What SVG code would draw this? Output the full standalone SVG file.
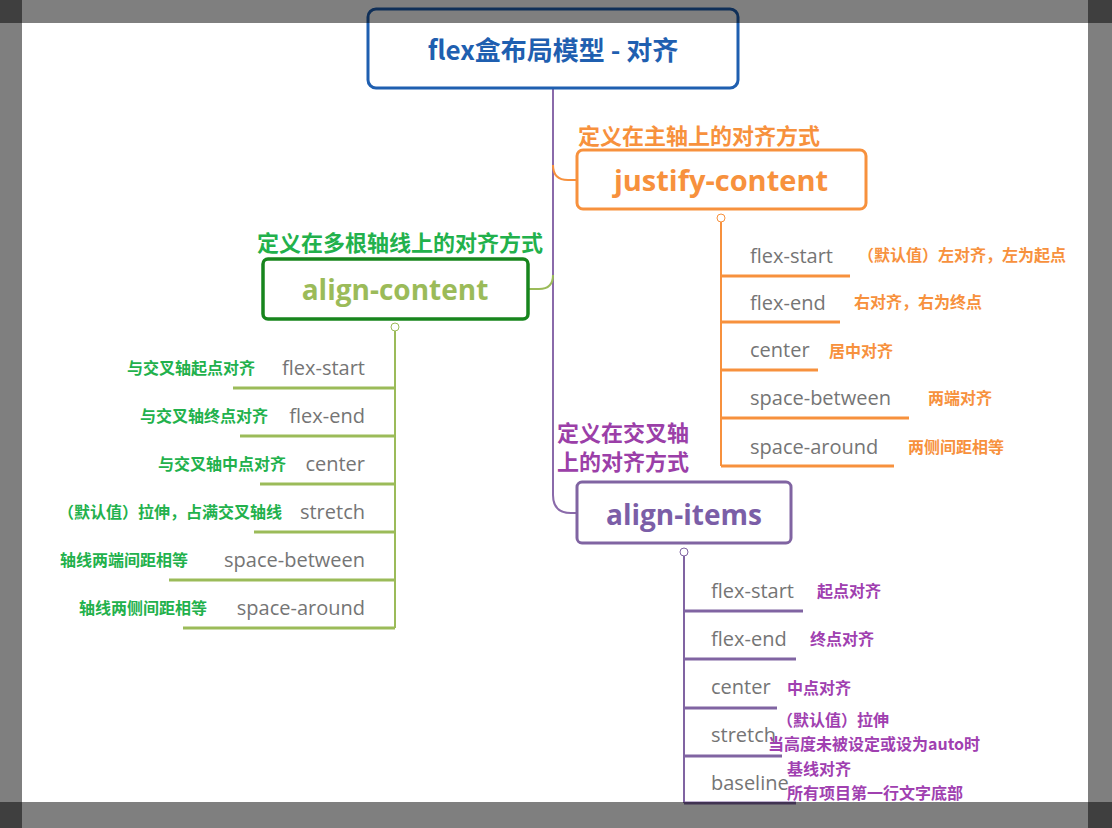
<svg xmlns="http://www.w3.org/2000/svg" width="1112" height="828" viewBox="0 0 1112 828">
<style>
.k{font-family:"Open Sans","Noto Sans",sans-serif;font-size:20px;fill:#757575}
.cj{font-family:"Noto Sans CJK SC",sans-serif;font-weight:bold}
.o{fill:#f7913d;font-size:16px}
.g{fill:#22b14c;font-size:16px}
.p{fill:#a040b0;font-size:16px}
.tt{font-family:"Open Sans","Noto Sans",sans-serif;font-weight:bold;text-anchor:middle}
</style>
<rect width="1112" height="828" fill="#fff"/>
<g id="connectors" fill="none">
<path d="M553 88 V495 Q553 513 571 513 H577" stroke="#8a6aaa" stroke-width="2"/>
<path d="M553 165 Q553 180 568 180 H577" stroke="#f7913d" stroke-width="2"/>
<path d="M553 275 Q553 289 539 289 H529" stroke="#9bbb59" stroke-width="2"/>
<g stroke="#f7913d" stroke-width="2"><path d="M721 222 V466"/></g>
<g stroke="#f7913d" stroke-width="3"><path d="M721 276 H850 M721 322 H840 M721 370 H818 M721 418 H909 M721 466 H894"/></g>
<g stroke="#9bbb59" stroke-width="2"><path d="M395 331 V628"/></g>
<g stroke="#9bbb59" stroke-width="3"><path d="M233 388 H395 M240 436 H395 M260 484 H395 M254 532 H395 M169 580 H395 M183 628 H395"/></g>
<g stroke="#8064a2" stroke-width="2"><path d="M684 556 V803"/></g>
<g stroke="#8064a2" stroke-width="3"><path d="M684 611 H803 M684 659 H796 M684 708 H777 M684 756 H782 M684 803 H796"/></g>
<circle cx="721" cy="218" r="4" fill="#fff" stroke="#f7913d"/>
<circle cx="395" cy="327" r="4" fill="#fff" stroke="#9bbb59"/>
<circle cx="684" cy="552" r="4" fill="#fff" stroke="#8064a2"/>
</g>
<g id="root"><rect x="368" y="9" width="370" height="79" rx="8" fill="#fff" stroke="#1f5fb0" stroke-width="3"/>
<text x="553" y="60" class="cj" font-size="26" fill="#1f5fb0" text-anchor="middle">flex盒布局模型 - 对齐</text></g>
<g id="justify"><text x="578" y="144" class="cj" font-size="22" fill="#f7913d">定义在主轴上的对齐方式</text>
<rect x="577" y="150" width="289" height="59" rx="6" fill="#fff" stroke="#f7913d" stroke-width="3"/>
<text x="721" y="191" class="tt" font-size="29" fill="#f7913d">justify-content</text></g>
<g id="justify-items">
<text x="750" y="263" class="k">flex-start</text><text x="858" y="261" class="cj o">（默认值）左对齐，左为起点</text>
<text x="750" y="310" class="k">flex-end</text><text x="854" y="308" class="cj o">右对齐，右为终点</text>
<text x="750" y="357" class="k">center</text><text x="829" y="357" class="cj o">居中对齐</text>
<text x="750" y="405" class="k">space-between</text><text x="928" y="404" class="cj o">两端对齐</text>
<text x="750" y="454" class="k">space-around</text><text x="908" y="453" class="cj o">两侧间距相等</text>
</g>
<g id="aligncontent"><text x="543" y="251" class="cj" font-size="22" fill="#22b14c" text-anchor="end">定义在多根轴线上的对齐方式</text>
<rect x="263" y="259" width="265" height="60" rx="5" fill="#fff" stroke="#17851d" stroke-width="3.5"/>
<text x="395" y="300" class="tt" font-size="28" fill="#9bbb59">align-content</text></g>
<g id="aligncontent-items" >
<text x="365" y="375" class="k" text-anchor="end">flex-start</text><text x="255" y="374" class="cj g" text-anchor="end">与交叉轴起点对齐</text>
<text x="365" y="423" class="k" text-anchor="end">flex-end</text><text x="268" y="422" class="cj g" text-anchor="end">与交叉轴终点对齐</text>
<text x="365" y="471" class="k" text-anchor="end">center</text><text x="286" y="470" class="cj g" text-anchor="end">与交叉轴中点对齐</text>
<text x="365" y="519" class="k" text-anchor="end">stretch</text><text x="282" y="518" class="cj g" text-anchor="end">（默认值）拉伸，占满交叉轴线</text>
<text x="365" y="567" class="k" text-anchor="end">space-between</text><text x="188" y="566" class="cj g" text-anchor="end">轴线两端间距相等</text>
<text x="365" y="615" class="k" text-anchor="end">space-around</text><text x="207" y="614" class="cj g" text-anchor="end">轴线两侧间距相等</text>
</g>
<g id="alignitems"><text x="557" y="441" class="cj" font-size="22" fill="#9b3fa8">定义在交叉轴</text><text x="557" y="470" class="cj" font-size="22" fill="#9b3fa8">上的对齐方式</text>
<rect x="577" y="482" width="214" height="61" rx="5" fill="#fff" stroke="#8064a2" stroke-width="3"/>
<text x="684" y="525" class="tt" font-size="28" fill="#7b5ea7">align-items</text></g>
<g id="alignitems-items">
<text x="711" y="598" class="k">flex-start</text><text x="817" y="597" class="cj p">起点对齐</text>
<text x="711" y="646" class="k">flex-end</text><text x="810" y="645" class="cj p">终点对齐</text>
<text x="711" y="694" class="k">center</text><text x="787" y="694" class="cj p">中点对齐</text>
<text x="711" y="742" class="k">stretch</text><text x="777" y="726" class="cj p">（默认值）拉伸</text><text x="768" y="750" class="cj p">当高度未被设定或设为auto时</text>
<text x="711" y="790" class="k">baseline</text><text x="787" y="775" class="cj p">基线对齐</text><text x="787" y="799" class="cj p">所有项目第一行文字底部</text>
</g>
<g fill="#000" opacity="0.5"><rect x="0" y="0" width="1112" height="23"/></g>
<g fill="#000" opacity="0.5"><rect x="0" y="802" width="1112" height="26"/></g>
<g fill="#000" opacity="0.5"><rect x="0" y="0" width="22" height="828"/></g>
<g fill="#000" opacity="0.5"><rect x="1088" y="0" width="24" height="828"/></g>
</svg>
